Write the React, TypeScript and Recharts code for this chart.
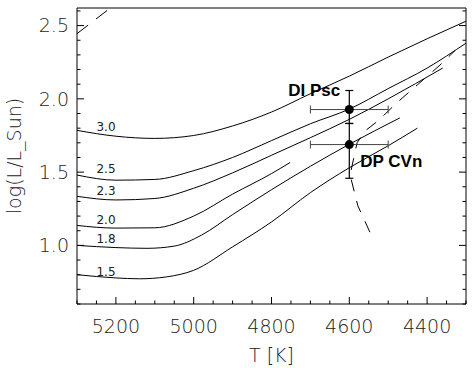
import { ComposedChart, Line, Scatter, XAxis, YAxis, ErrorBar } from 'recharts'

// evolutionary tracks: [T, log L]
const track30 = [[5300, 1.785], [5200, 1.745], [5100, 1.73], [5000, 1.75], [4900, 1.815], [4800, 1.91], [4700, 2.035], [4600, 2.155], [4500, 2.285], [4400, 2.41], [4300, 2.53]]
const track25 = [[5300, 1.48], [5200, 1.445], [5100, 1.45], [5000, 1.51], [4900, 1.6], [4800, 1.715], [4700, 1.83], [4600, 1.93], [4500, 2.07], [4400, 2.21], [4300, 2.38]]
const track23 = [[5300, 1.335], [5200, 1.31], [5100, 1.32], [5000, 1.39], [4900, 1.495], [4800, 1.615], [4700, 1.735], [4600, 1.86], [4500, 2.0], [4360, 2.21]]
const track20 = [[5300, 1.136], [5200, 1.118], [5100, 1.12], [5000, 1.2], [4900, 1.35], [4800, 1.49], [4752, 1.566]]
const track18 = [[5300, 1.0], [5200, 0.985], [5120, 0.98], [5050, 0.995], [4980, 1.07], [4900, 1.21], [4800, 1.38], [4700, 1.54], [4600, 1.69], [4470, 1.87]]
const track15 = [[5300, 0.8], [5200, 0.778], [5140, 0.772], [5070, 0.785], [5000, 0.83], [4900, 0.99], [4800, 1.16], [4700, 1.36], [4600, 1.53], [4500, 1.68], [4425, 1.8]]
const dashedLoop = [[4547, 1.09], [4578, 1.27], [4598, 1.48], [4580, 1.7], [4560, 1.78], [4526, 1.85], [4477, 1.975], [4423, 2.1], [4367, 2.23], [4328, 2.33]]
const dashedTop = [[5300, 2.445], [5190, 2.67]]

const massNames = ['3.0', '2.5', '2.3', '2.0', '1.8', '1.5']
const massLabelT = [5250, 5250, 5250, 5250, 5250, 5250]
const massLabelL = [1.81, 1.52, 1.37, 1.174, 1.048, 0.82]

const starNames = ['DI Psc', 'DP CVn']
const starT = [4600, 4600]
const starL = [1.927, 1.688]
const starErrT = [100, 100]
const starErrL = [[0.095, 0.13], [0.23, 0.144]]

const xTicks = [4300, 4350, 4400, 4450, 4500, 4550, 4600, 4650, 4700, 4750, 4800, 4850, 4900, 4950, 5000, 5050, 5100, 5150, 5200, 5250, 5300]
const xLabels = [4400, 4600, 4800, 5000, 5200]
const yTicks = [0.6, 0.7, 0.8, 0.9, 1.0, 1.1, 1.2, 1.3, 1.4, 1.5, 1.6, 1.7, 1.8, 1.9, 2.0, 2.1, 2.2, 2.3, 2.4, 2.5, 2.6]
const yLabels = [1.0, 1.5, 2.0, 2.5]

const toRows = (pts: number[][]) => pts.map(([T, L]) => ({ T, L }))
const tracks = [track30, track25, track23, track20, track18, track15]

const massRows = massNames.map((name, i) => ({ name, T: massLabelT[i], L: massLabelL[i] }))
const starRows = starNames.map((name, i) => ({ name, T: starT[i], L: starL[i], errT: starErrT[i], errL: starErrL[i] }))

// where each star's name sits relative to its dot
const starText: Record<string, { dx: number; dy: number; anchor: string }> = {
  'DI Psc': { dx: -9, dy: -14, anchor: 'end' },
  'DP CVn': { dx: 11, dy: 22, anchor: 'start' },
}

const tickFont = { fontFamily: 'DejaVu Sans', fontWeight: 200, fontSize: 19, fill: '#222' }
const isMajorY = (v: number) => yLabels.some((l) => Math.abs(l - v) < 1e-6)

function XTick({ x, y, payload, side }: any) {
  const major = xLabels.includes(payload.value)
  const len = major ? 7 : 3.5
  const dir = side === 'bottom' ? -1 : 1
  return (
    <g>
      <line x1={x} y1={y} x2={x} y2={y + dir * len} stroke="#000" />
      {side === 'bottom' && major && (
        <text x={x} y={y + 29} textAnchor="middle" {...tickFont}>{payload.value}</text>
      )}
    </g>
  )
}

function YTick({ x, y, payload, side }: any) {
  const major = isMajorY(payload.value)
  const len = major ? 7 : 3.5
  const dir = side === 'left' ? 1 : -1
  return (
    <g>
      <line x1={x} y1={y} x2={x + dir * len} y2={y} stroke="#000" />
      {side === 'left' && major && (
        <text x={x - 8} y={y} dy="0.35em" textAnchor="end" {...tickFont}>{payload.value.toFixed(1)}</text>
      )}
    </g>
  )
}

export default function App() {
  return (
    <div style={{ position: 'absolute', left: 0, top: 0, background: '#fff' }}>
      <ComposedChart width={474} height={368} margin={{ top: 0, right: 0, bottom: 0, left: 0 }}>
        <XAxis
          xAxisId={0}
          dataKey="T"
          type="number"
          domain={[4300, 5300]}
          reversed
          ticks={xTicks}
          interval={0}
          height={64}
          tickSize={0}
          tickMargin={0}
          tickLine={false}
          stroke="#000"
          tick={(p: any) => <XTick {...p} side="bottom" />}
          label={{ value: 'T [K]', position: 'insideBottom', offset: 6, style: { ...tickFont } }}
        />
        <XAxis
          xAxisId="top"
          orientation="top"
          dataKey="T"
          type="number"
          domain={[4300, 5300]}
          reversed
          ticks={xTicks}
          interval={0}
          height={8}
          tickSize={0}
          tickMargin={0}
          tickLine={false}
          stroke="#000"
          tick={(p: any) => <XTick {...p} side="top" />}
        />
        <YAxis
          yAxisId={0}
          type="number"
          domain={[0.6, 2.62]}
          allowDataOverflow
          ticks={yTicks}
          interval={0}
          width={77}
          tickSize={0}
          tickMargin={0}
          tickLine={false}
          stroke="#000"
          tick={(p: any) => <YTick {...p} side="left" />}
          label={{
            content: ({ viewBox }: any) => {
              const cx = viewBox.x + 14
              const cy = viewBox.y + viewBox.height / 2
              return (
                <text x={cx} y={cy} dy="0.35em" textAnchor="middle" transform={`rotate(-90 ${cx} ${cy})`} {...tickFont}>
                  log(L/L_Sun)
                </text>
              )
            },
          }}
        />
        <YAxis
          yAxisId="right"
          orientation="right"
          type="number"
          domain={[0.6, 2.62]}
          allowDataOverflow
          ticks={yTicks}
          interval={0}
          width={8}
          tickSize={0}
          tickMargin={0}
          tickLine={false}
          stroke="#000"
          tick={(p: any) => <YTick {...p} side="right" />}
        />

        {tracks.map((t, i) => (
          <Line
            key={massNames[i]}
            data={toRows(t)}
            dataKey="L"
            type="monotone"
            stroke="#000"
            strokeWidth={1}
            dot={false}
            isAnimationActive={false}
          />
        ))}
        <Line data={toRows(dashedLoop)} dataKey="L" type="linear" stroke="#000" strokeWidth={1} strokeDasharray="12 10" dot={false} isAnimationActive={false} />
        <Line data={toRows(dashedTop)} dataKey="L" type="linear" stroke="#000" strokeWidth={1} strokeDasharray="14 10" dot={false} isAnimationActive={false} />

        <Scatter
          data={massRows}
          dataKey="L"
          isAnimationActive={false}
          shape={(p: any) => (
            <text x={p.cx} y={p.cy} dy="0.35em" textAnchor="start" fontFamily="DejaVu Sans" fontSize={12} fill="#222">
              {p.payload.name}
            </text>
          )}
        />

        <Scatter
          data={starRows}
          dataKey="L"
          isAnimationActive={false}
          shape={(p: any) => {
            const o = starText[p.payload.name]
            return (
              <g>
                <circle cx={p.cx} cy={p.cy} r={4.5} fill="#000" />
                <text x={p.cx + o.dx} y={p.cy + o.dy} textAnchor={o.anchor} fontFamily="Liberation Sans" fontWeight="bold" fontSize={17} fill="#000">
                  {p.payload.name}
                </text>
              </g>
            )
          }}
        >
          <ErrorBar dataKey="errT" direction="x" width={4} stroke="#444" strokeWidth={1} />
          <ErrorBar dataKey="errL" direction="y" width={4} stroke="#000" strokeWidth={1.2} />
        </Scatter>
      </ComposedChart>
    </div>
  )
}
